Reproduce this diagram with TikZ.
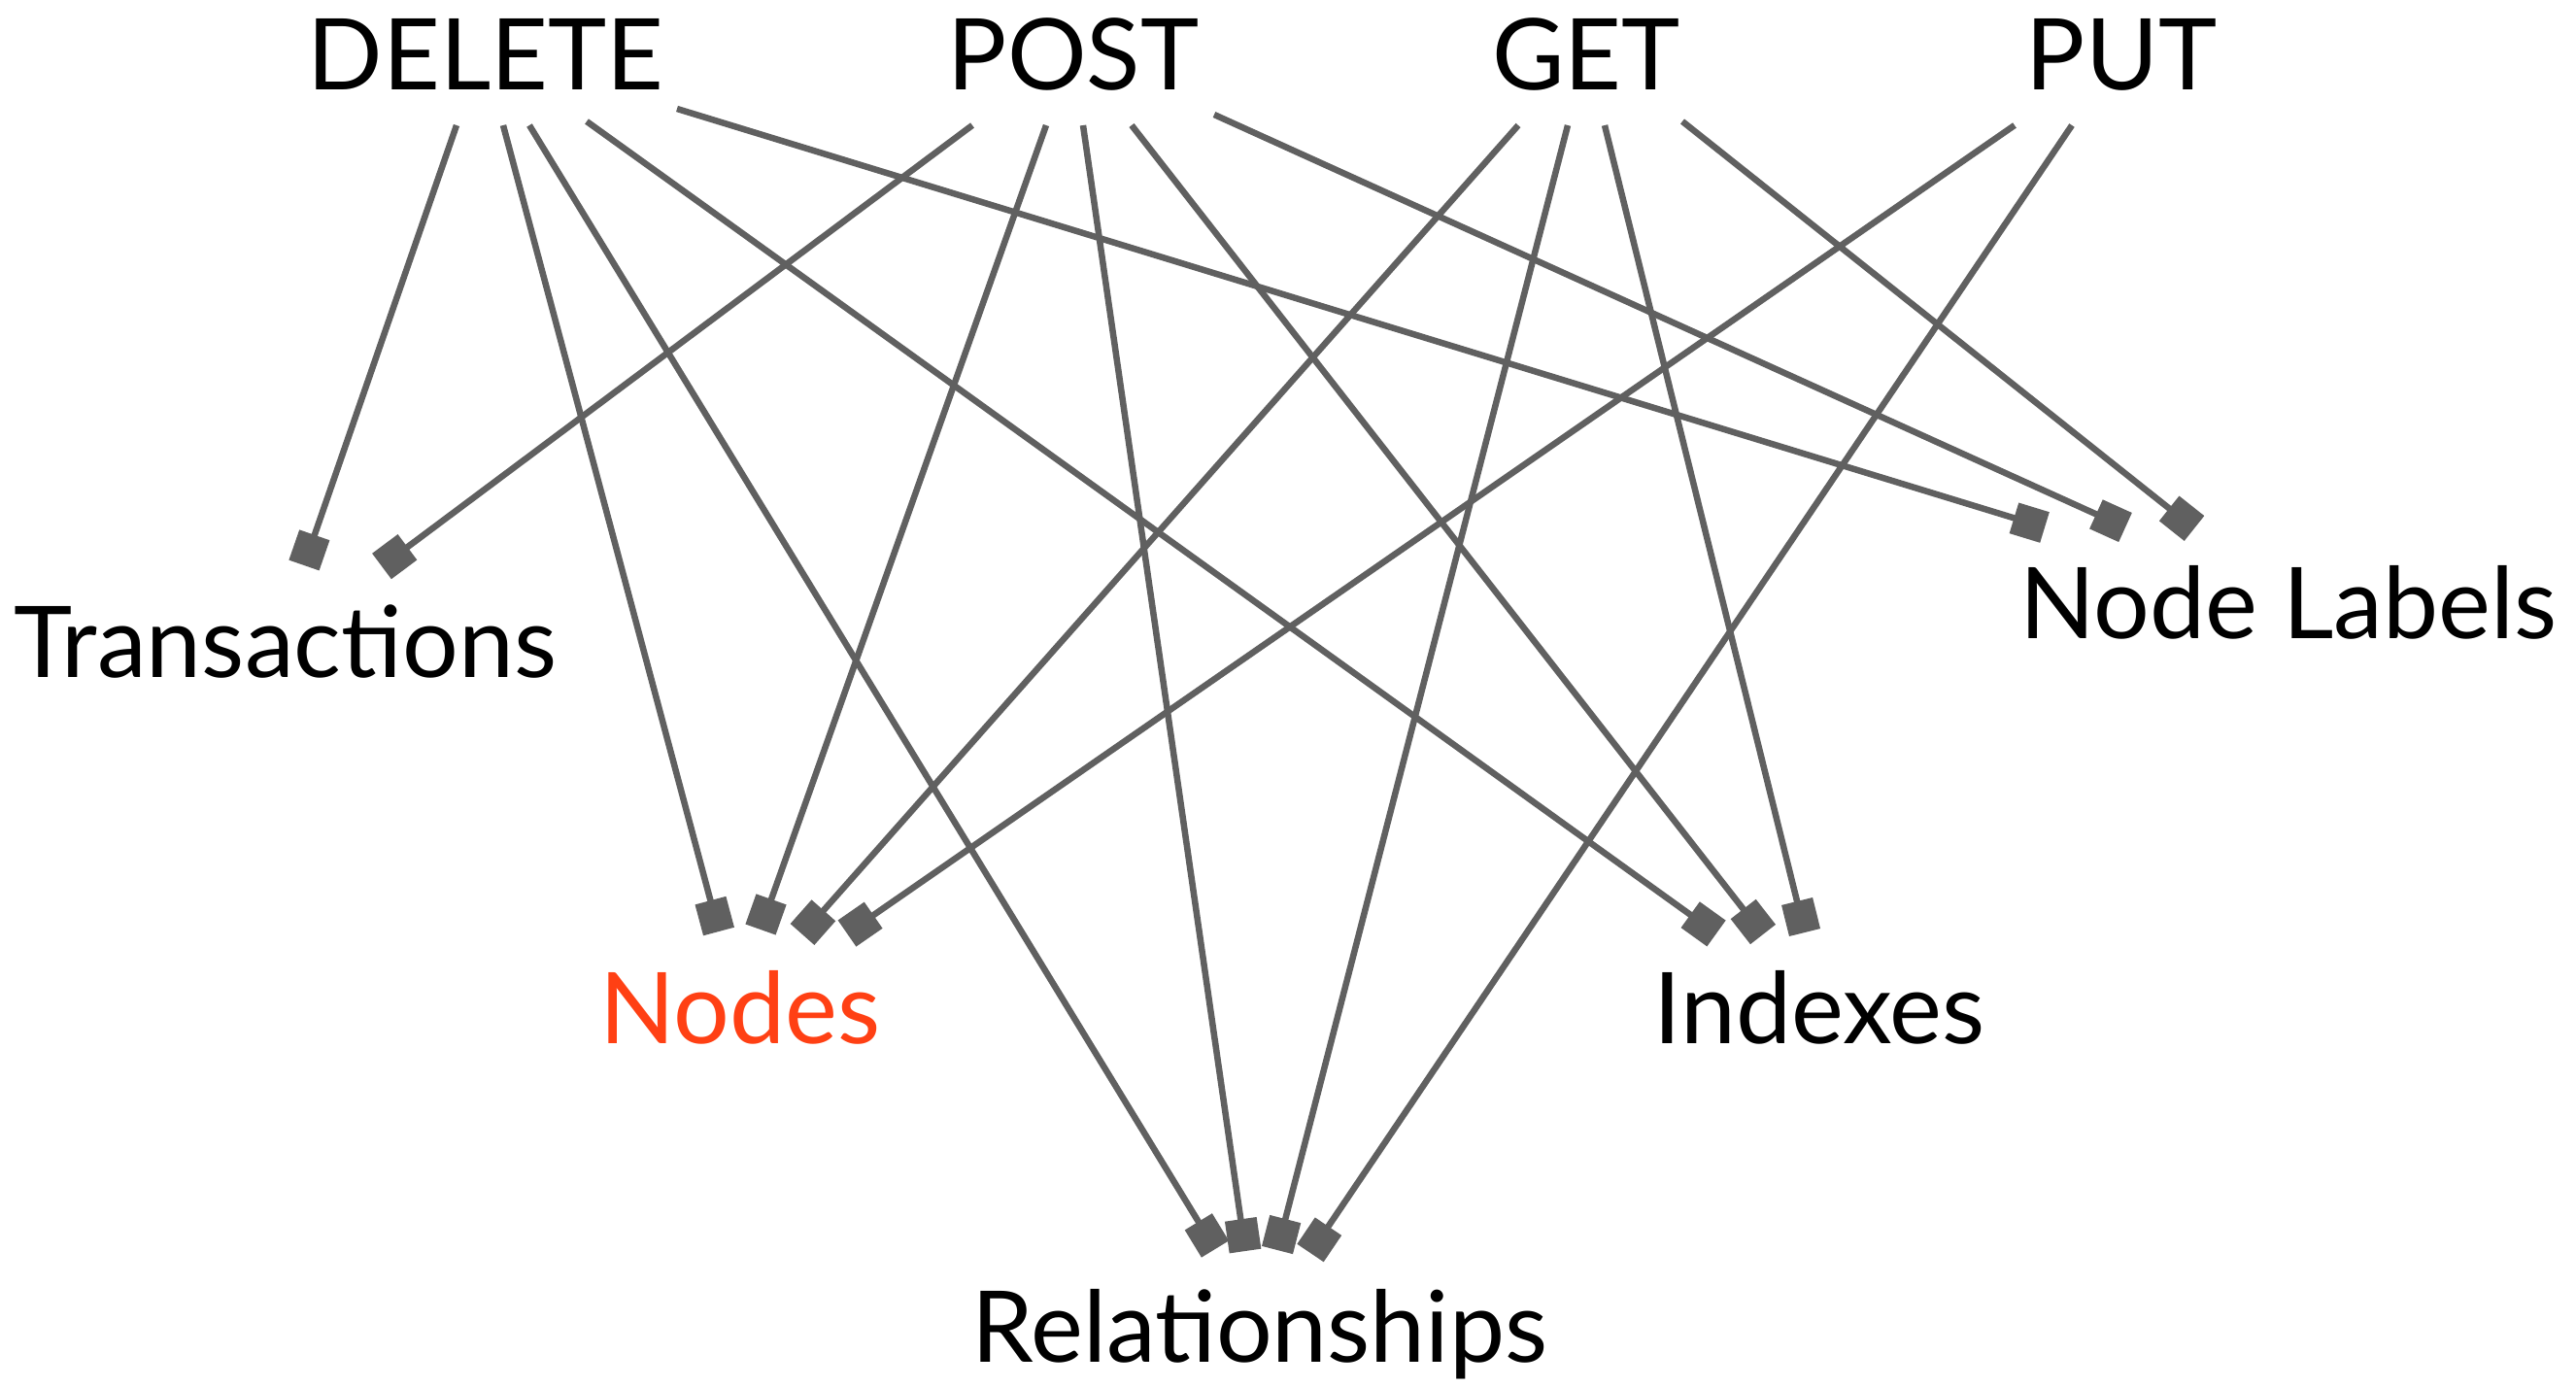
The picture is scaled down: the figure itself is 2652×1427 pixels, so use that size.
\documentclass[tikz,border=0pt]{standalone}
\usepackage{fontspec}
\setmainfont{Lato}
\usetikzlibrary{arrows.meta}
\usetikzlibrary{calc}
\definecolor{edgegray}{RGB}{96,96,96}
\definecolor{hotred}{RGB}{255,64,20}
\tikzstyle{term} = [inner sep=0pt, anchor=base, font=\fontsize{29}{35}\selectfont]
\tikzstyle{arrow} = [draw=edgegray, line width=0.65mm, -{Square[length=3.3mm, width=3.3mm]}]

\begin{document}
\begin{tikzpicture}[x=0.01cm, y=-0.01cm]
	\useasboundingbox (0,0) rectangle (2652,1427);
	% verbs
	\node (DELETE) [term] at (500,92) {DELETE};
	\node (POST) [term] at (1105,92) {POST};
	\node (GET) [term] at (1633,92) {GET};
	\node (PUT) [term] at (2184,92) {PUT};
	% resources
	\node (Transactions) [term] at (294,697) {Transactions};
	\node (NodeLabels) [term] at (2356,657) {Node Labels};
	\node (Nodes) [term, text=hotred] at (762,1074) {Nodes};
	\node (Indexes) [term] at (1873,1074) {Indexes};
	\node (Relationships) [term] at (1297,1402) {Relationships};
	% DELETE
	\draw [arrow] ($(DELETE.base)+(-30,37)$) -- ($(Transactions.base)+(19,-115)$);
	\draw [arrow] ($(DELETE.base)+(18,37)$) -- ($(Nodes.base)+(-22,-115)$);
	\draw [arrow] ($(DELETE.base)+(45,37)$) -- ($(Relationships.base)+(-46,-116)$);
	\draw [arrow] ($(DELETE.base)+(104,33)$) -- ($(Indexes.base)+(-106,-113)$);
	\draw [arrow] ($(DELETE.base)+(197,20)$) -- ($(NodeLabels.base)+(-251,-114)$);
	% POST
	\draw [arrow] ($(POST.base)+(-104,37)$) -- ($(Transactions.base)+(99,-114)$);
	\draw [arrow] ($(POST.base)+(-28,37)$) -- ($(Nodes.base)+(21,-117)$);
	\draw [arrow] ($(POST.base)+(10,37)$) -- ($(Relationships.base)+(-15,-114)$);
	\draw [arrow] ($(POST.base)+(60,37)$) -- ($(Indexes.base)+(-58,-112)$);
	\draw [arrow] ($(POST.base)+(145,26)$) -- ($(NodeLabels.base)+(-168,-114)$);
	% GET
	\draw [arrow] ($(GET.base)+(-70,37)$) -- ($(Nodes.base)+(64,-112)$);
	\draw [arrow] ($(GET.base)+(-19,37)$) -- ($(Relationships.base)+(18,-115)$);
	\draw [arrow] ($(GET.base)+(19,37)$) -- ($(Indexes.base)+(-15,-114)$);
	\draw [arrow] ($(GET.base)+(99,33)$) -- ($(NodeLabels.base)+(-97,-113)$);
	% PUT
	\draw [arrow] ($(PUT.base)+(-110,37)$) -- ($(Nodes.base)+(110,-113)$);
	\draw [arrow] ($(PUT.base)+(-51,37)$) -- ($(Relationships.base)+(52,-112)$);
\end{tikzpicture}
\end{document}
